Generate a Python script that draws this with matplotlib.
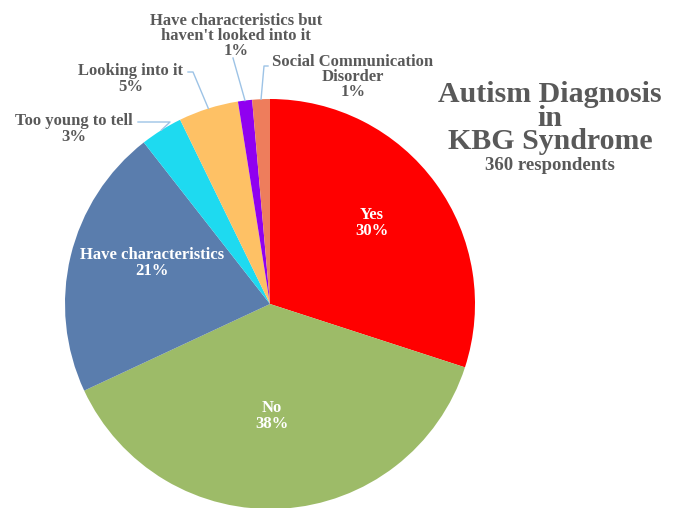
import matplotlib.pyplot as plt
import numpy as np

# survey responses (360 respondents)
categories = ["Yes", "No", "Have characteristics", "Too young to tell",
              "Looking into it", "Have characteristics but\nhaven't looked into it",
              "Social Communication\nDisorder"]
counts = [108, 137, 77, 12, 17, 4, 5]
colors = ["#FF0000", "#9DBB68", "#5A7DAD", "#1EDAF0", "#FEC165", "#9000F0", "#EE7D5C"]

title_lines = ["Autism Diagnosis", "in", "KBG Syndrome"]
subtitle = "360 respondents"

FONT = "Liberation Serif"
GREY = "#595959"
LEADER = "#9DC3E6"

fig = plt.figure(figsize=(6.76, 5.08), dpi=100)
ax = fig.add_axes([0, 0, 1, 1])

cx, cy, r = 270, 204, 205
wedges, _ = ax.pie(counts, colors=colors, startangle=90, counterclock=False,
                   center=(cx, cy), radius=r, frame=True,
                   wedgeprops=dict(linewidth=0))
ax.set_xlim(0, 676)
ax.set_ylim(0, 508)
ax.set_aspect("equal")
ax.axis("off")

total = sum(counts)
pct = [f"{round(100 * c / total)}%" for c in counts]

# labels inside the big slices
inside = {0: (372, 285), 1: (272, 92), 2: (152, 245)}
for i, (x, y) in inside.items():
    ax.text(x, y, f"{categories[i]}\n{pct[i]}", ha="center", va="center",
            color="white", fontsize=12, fontweight="bold", family=FONT,
            linespacing=1.0)

# outside labels with leader lines: (text pos, line start, elbow)
outside = {
    3: ((74, 379), (138, 386), (170, 386)),
    4: ((131, 429), (188, 436), (193, 436)),
    5: ((236, 472), (233, 450), (233, 450)),
    6: ((353, 431), (268, 442), (264, 442)),
}
for i, (tpos, start, elbow) in outside.items():
    w = wedges[i]
    mid = np.deg2rad((w.theta1 + w.theta2) / 2)
    end = (cx + r * np.cos(mid), cy + r * np.sin(mid))
    ax.plot([start[0], elbow[0], end[0]], [start[1], elbow[1], end[1]],
            color=LEADER, lw=1)
    ax.text(tpos[0], tpos[1], f"{categories[i]}\n{pct[i]}", ha="center",
            va="center", color=GREY, fontsize=12, fontweight="bold",
            family=FONT, linespacing=0.92)

# title block
ax.text(550, 390, "\n".join(title_lines), ha="center", va="center",
        color=GREY, fontsize=21.5, fontweight="bold", family=FONT,
        linespacing=0.82)
ax.text(550, 342, subtitle, ha="center", va="center", color=GREY,
        fontsize=13.5, fontweight="bold", family=FONT)

fig.savefig("out.png", dpi=100, facecolor="white")
